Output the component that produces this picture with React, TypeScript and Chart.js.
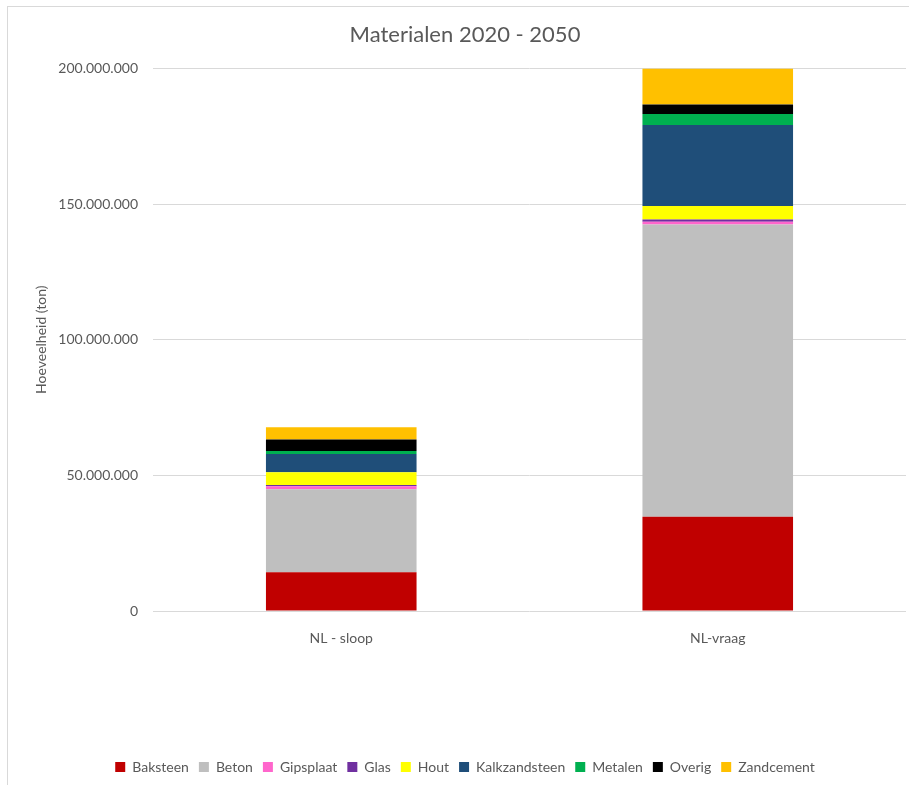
import React, { useEffect, useRef } from "react";
import { Chart, registerables } from "chart.js";

Chart.register(...registerables);

const categories = ["NL - sloop", "NL-vraag"];
const seriesNames = ["Baksteen", "Beton", "Gipsplaat", "Glas", "Hout", "Kalkzandsteen", "Metalen", "Overig", "Zandcement"];
const seriesColors = ["#C00000", "#BFBFBF", "#FF66CC", "#7030A0", "#FFFF00", "#1F4E79", "#00B050", "#000000", "#FFC000"];

const baksteen = [14300000, 34700000];
const beton = [30600000, 107800000];
const gipsplaat = [1100000, 1000000];
const glas = [400000, 800000];
const hout = [4700000, 5000000];
const kalkzandsteen = [6800000, 29800000];
const metalen = [1100000, 4100000];
const overig = [4200000, 3500000];
const zandcement = [4500000, 13300000];

const seriesValues = [baksteen, beton, gipsplaat, glas, hout, kalkzandsteen, metalen, overig, zandcement];

const yMax = 200000000;
const yStep = 50000000;

const FONT = "Lato, 'Open Sans', sans-serif";
const TEXT = "#595959";

function fmt(v: number): string {
  return String(Math.round(v)).replace(/\B(?=(\d{3})+(?!\d))/g, ".");
}

export default function App() {
  const ref = useRef<HTMLCanvasElement | null>(null);
  useEffect(() => {
    if (!ref.current) return;
    const chart = new Chart(ref.current, {
      type: "bar",
      data: {
        labels: categories,
        datasets: seriesNames.map((name, i) => ({
          label: name,
          data: seriesValues[i],
          backgroundColor: seriesColors[i],
          borderWidth: 0,
          barPercentage: 0.4,
          categoryPercentage: 1,
        })),
      },
      options: {
        animation: false,
        responsive: false,
        maintainAspectRatio: false,
        layout: { padding: { left: 24, right: 3, top: 0, bottom: 1 } },
        plugins: {
          title: {
            display: true,
            text: "Materialen 2020 - 2050",
            color: TEXT,
            font: { family: FONT, size: 22, weight: "normal" },
            padding: { top: 22, bottom: 20 },
          },
          legend: {
            position: "bottom",
            labels: {
              color: TEXT,
              font: { family: FONT, size: 14 },
              boxWidth: 10,
              boxHeight: 10,
              padding: 10,
            },
          },
          tooltip: { enabled: false },
        },
        scales: {
          x: {
            stacked: true,
            grid: { display: false },
            border: { display: false },
            ticks: { color: TEXT, font: { family: FONT, size: 14 }, padding: 11 },
            afterFit: (s: any) => {
              s.height = 139;
            },
          },
          y: {
            stacked: true,
            min: 0,
            max: yMax,
            grid: { color: "#D9D9D9", drawTicks: false },
            border: { display: false },
            ticks: {
              stepSize: yStep,
              color: TEXT,
              font: { family: FONT, size: 14 },
              padding: 15,
              callback: (v: any) => fmt(Number(v)),
            },
            title: {
              display: true,
              text: "Hoeveelheid (ton)",
              color: TEXT,
              font: { family: FONT, size: 14 },
              padding: { top: 9, bottom: 0 },
            },
            afterFit: (s: any) => {
              s.width = 129;
            },
          },
        },
      },
    });
    return () => chart.destroy();
  }, []);
  return (
    <div style={{ position: "fixed", left: 0, top: 0, width: 909, height: 785, overflow: "hidden", background: "#fff" }}>
      <div style={{ position: "absolute", left: 7, top: 6, width: 1000, height: 1000, border: "1px solid #D9D9D9" }} />
      <canvas ref={ref} width={909} height={785} style={{ position: "absolute", left: 0, top: 0, width: 909, height: 785 }} />
    </div>
  );
}
